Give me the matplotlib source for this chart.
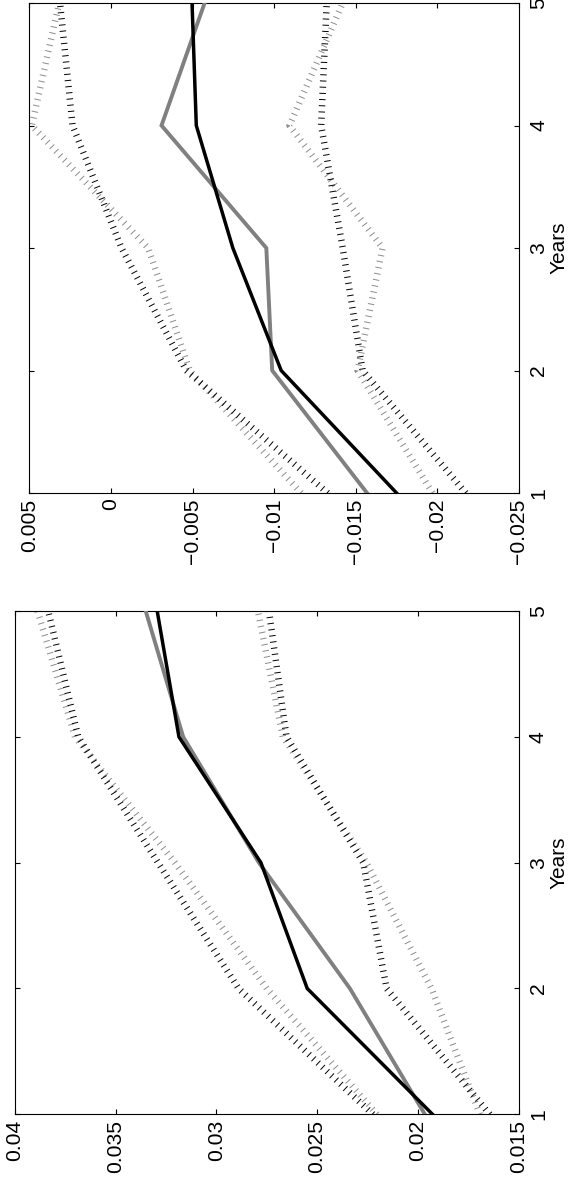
import matplotlib
matplotlib.use("Agg")
import matplotlib.pyplot as plt

plt.rcParams['font.family'] = ['Liberation Sans', 'DejaVu Sans']

years = [1, 2, 3, 4, 5]
year_labels = ['1', '2', '3', '4', '5']

# Original left panel (drawn at the bottom of the rotated page)
a_point_black = [0.01927, 0.02549, 0.02779, 0.03186, 0.03294]
a_point_gray = [0.01965, 0.02337, 0.02789, 0.03165, 0.03351]
a_upper_black = [0.02223, 0.02890, 0.03290, 0.03686, 0.03835]
a_upper_gray = [0.02203, 0.02750, 0.03206, 0.03702, 0.03888]
a_lower_black = [0.01643, 0.02155, 0.02271, 0.02652, 0.02739]
a_lower_gray = [0.01692, 0.01932, 0.02255, 0.02670, 0.02794]
a_ticks = [0.015, 0.02, 0.025, 0.03, 0.035, 0.04]
a_tick_labels = ['0.015', '0.02', '0.025', '0.03', '0.035', '0.04']

# Original right panel (drawn at the top of the rotated page)
b_point_black = [-0.01750, -0.01043, -0.00747, -0.00523, -0.00497]
b_point_gray = [-0.01569, -0.00988, -0.00952, -0.00310, -0.00574]
b_upper_black = [-0.01328, -0.00462, -0.00065, 0.00235, 0.00312]
b_upper_gray = [-0.01165, -0.00483, -0.00228, 0.00485, 0.00317]
b_lower_black = [-0.02174, -0.01542, -0.01420, -0.01288, -0.01322]
b_lower_gray = [-0.01970, -0.01511, -0.01664, -0.01094, -0.01420]
b_ticks = [-0.025, -0.02, -0.015, -0.01, -0.005, 0.0, 0.005]
b_tick_labels = ['\u22120.025', '\u22120.02', '\u22120.015', '\u22120.01',
                 '\u22120.005', '0', '0.005']

W, H = 572, 1184
fig = plt.figure(figsize=(W / 100, H / 100), dpi=100)

DOT = (0, (0.15, 0.8))
DOT_LW = 4.7
BLACK = '#000000'
GRAY = '#808080'
LGRAY = '#8c8c8c'


def panel(rect, pt_b, pt_g, up_b, up_g, lo_b, lo_g, ticks, labels, lo, hi):
    ax = fig.add_axes(rect)
    for vals, col in ((up_g, LGRAY), (up_b, BLACK), (lo_g, LGRAY), (lo_b, BLACK)):
        ax.plot(vals, years, color=col, lw=DOT_LW, linestyle=DOT,
                dash_capstyle='butt', zorder=2)
    ax.plot(pt_g, years, color=GRAY, lw=2.8, zorder=3, solid_joinstyle='miter')
    ax.plot(pt_b, years, color=BLACK, lw=2.5, zorder=4, solid_joinstyle='miter')
    ax.set_xlim(hi, lo)
    ax.set_ylim(1, 5)
    ax.set_xticks(ticks)
    ax.set_xticklabels(labels)
    ax.set_yticks(years)
    ax.set_yticklabels(year_labels)
    ax.tick_params(direction='in', top=True, bottom=True, left=True, right=True,
                   labelleft=False, labelright=True, labelbottom=True,
                   length=3.6, width=0.8, labelsize=15.2)
    ax.tick_params(axis='x', pad=4, labelrotation=90)
    ax.tick_params(axis='y', pad=7.5, labelrotation=90)
    for t in ax.get_yticklabels():
        t.set_verticalalignment('center')
    for t in ax.get_xticklabels():
        t.set_horizontalalignment('center')
        t.set_verticalalignment('top')
    ax.yaxis.set_label_position('right')
    ax.set_ylabel('Years', fontsize=15, labelpad=1)
    for s in ax.spines.values():
        s.set_linewidth(0.8)
    return ax


def rect(x0, x1, y0, y1):
    return [x0 / W, 1 - y1 / H, (x1 - x0) / W, (y1 - y0) / H]


panel(rect(29.3, 519, 3, 493), b_point_black, b_point_gray, b_upper_black,
      b_upper_gray, b_lower_black, b_lower_gray, b_ticks, b_tick_labels,
      -0.025, 0.005)
panel(rect(15, 518.5, 611, 1114.3), a_point_black, a_point_gray, a_upper_black,
      a_upper_gray, a_lower_black, a_lower_gray, a_ticks, a_tick_labels,
      0.015, 0.04)

fig.savefig('out.png', dpi=100)
